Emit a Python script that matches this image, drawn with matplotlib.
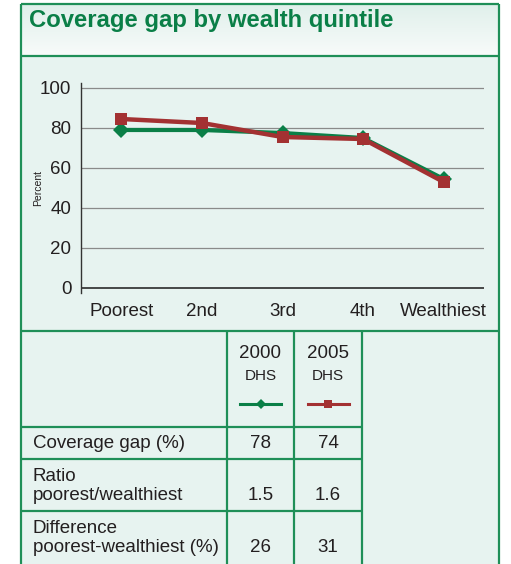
import numpy as np
import matplotlib
matplotlib.use("Agg")
from matplotlib import pyplot as plt
from matplotlib.colors import LinearSegmentedColormap

plt.rcParams['font.family'] = ['Liberation Sans', 'DejaVu Sans']

# data
quintiles = ['Poorest', '2nd', '3rd', '4th', 'Wealthiest']
gap_2000 = [79, 79, 77.5, 75, 54.5]
gap_2005 = [84.5, 82.5, 75.5, 74.5, 53]
yticks = [0, 20, 40, 60, 80, 100]

series_names = ['2000', '2005']
series_sub = ['DHS', 'DHS']
row_labels = ['Coverage gap (%)', 'Ratio\npoorest/wealthiest', 'Difference\npoorest-wealthiest (%)']
table_2000 = ['78', '1.5', '26']
table_2005 = ['74', '1.6', '31']

GREEN = '#0a7f47'
RED = '#a33132'
BORDER = '#1f8f58'
PANEL = '#e7f3f0'
TXT = '#231f20'

W, H = 511, 564
fig = plt.figure(figsize=(W / 100, H / 100), dpi=100)
fig.patch.set_facecolor('white')

# background / frame axes in pixel coordinates
bg = fig.add_axes([0, 0, 1, 1])
L, R, T = 21, 499, 4
bg.fill_between([L, R], 56, H + 5, color=PANEL, lw=0)
grad = np.linspace(0, 1, 100).reshape(-1, 1)
cmap = LinearSegmentedColormap.from_list('g', ['#e0f0eb', '#f8fbfa'])
bg.imshow(grad, cmap=cmap, extent=[L, R, 56, T], aspect='auto', zorder=0)
bg.set_xlim(0, W)
bg.set_ylim(H, 0)
bg.axis('off')

kw = dict(color=BORDER, lw=1.6, solid_capstyle='butt')
bg.plot([L, L], [T, H + 5], **kw)
bg.plot([R, R], [T, H + 5], **kw)
bg.plot([L, R], [T, T], **kw)
bg.plot([L, R], [56, 56], **kw)
bg.plot([L, R], [331, 331], **kw)

bg.text(29, 20, 'Coverage gap by wealth quintile', color=GREEN,
        fontsize=17.2, fontweight='bold', va='center', ha='left')
bg.text(38, 188, 'Percent', fontsize=7.5, color=TXT, rotation=90,
        ha='center', va='center')

# table
col_x = [227, 294, 362]
row_y = [427, 459, 511]
for x in col_x:
    bg.plot([x, x], [331, H + 5], **kw)
for y in row_y:
    bg.plot([L, col_x[-1]], [y, y], **kw)

centers = [(col_x[0] + col_x[1]) / 2, (col_x[1] + col_x[2]) / 2]
colors = [GREEN, RED]
markers = ['D', 's']
msizes = [5, 6]
for cx, name, sub, c, m, ms in zip(centers, series_names, series_sub, colors, markers, msizes):
    bg.text(cx, 353, name, fontsize=13.5, color=TXT, ha='center', va='center')
    bg.text(cx, 376, sub, fontsize=11, color=TXT, ha='center', va='center')
    bg.plot([cx - 20.5, cx + 20.5], [404, 404], color=c, lw=2.2)
    bg.plot([cx], [404], marker=m, color=c, ms=ms, mew=0)

label_y = [444, 486, 538]
value_y = [444, 496, 548]
for lab, ly, vy, v0, v1 in zip(row_labels, label_y, value_y, table_2000, table_2005):
    bg.text(33, ly, lab, fontsize=13.5, color=TXT, ha='left', va='center', linespacing=1.2)
    bg.text(centers[0], vy, v0, fontsize=13.5, color=TXT, ha='center', va='center')
    bg.text(centers[1], vy, v1, fontsize=13.5, color=TXT, ha='center', va='center')

# chart axes
x0, x1, y0, y1 = 81, 484, 83, 293
ax = fig.add_axes([x0 / W, 1 - y1 / H, (x1 - x0) / W, (y1 - y0) / H])
ax.patch.set_alpha(0)
xs = np.arange(len(quintiles))
ax.set_xlim(-0.5, len(quintiles) - 0.5)
ax.set_ylim(-2.5, 102.5)
for s in ['top', 'right', 'bottom']:
    ax.spines[s].set_visible(False)
ax.spines['left'].set_color('#333333')
ax.spines['left'].set_linewidth(1.0)
for v in yticks[1:]:
    ax.axhline(v, color='#8a8a8a', lw=0.9, zorder=1)
ax.axhline(0, color='#2a2a2a', lw=1.2, zorder=1)

ax.plot(xs, gap_2000, color=GREEN, lw=3, marker='D', ms=8.5, mew=0, zorder=3)
ax.plot(xs, gap_2005, color=RED, lw=3.2, marker='s', ms=9, mew=0, zorder=4)

ax.set_yticks(yticks)
ax.set_xticks(xs)
ax.set_xticklabels(quintiles)
ax.tick_params(length=0, labelsize=13.5, labelcolor=TXT)
ax.tick_params(axis='y', pad=7)
ax.tick_params(axis='x', pad=7)

fig.savefig('out.png', dpi=100)
